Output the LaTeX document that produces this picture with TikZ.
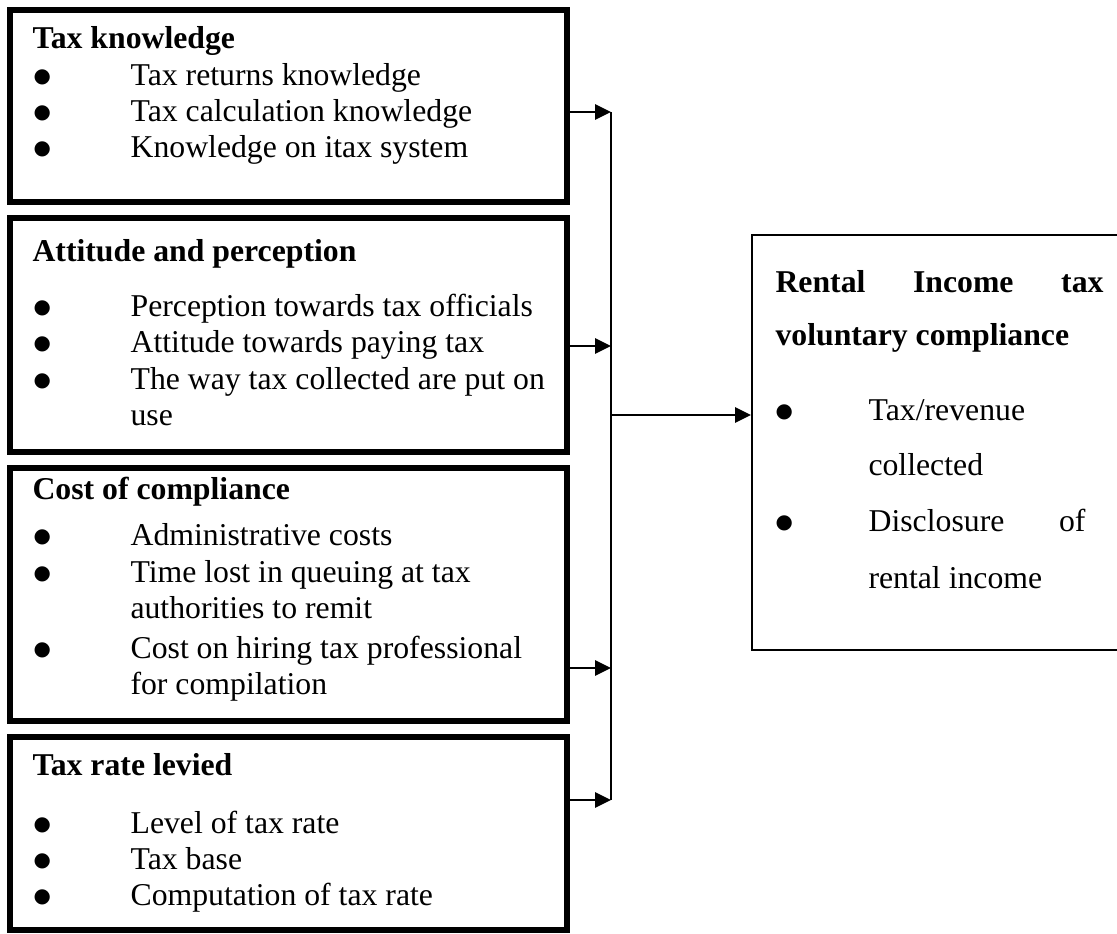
\documentclass[tikz,border=0pt]{standalone}
\usepackage{fontspec}
\setmainfont{Liberation Serif}
\newfontfamily\symfont{DejaVu Sans}
\usetikzlibrary{arrows.meta}

\newcommand{\dotmark}{\raisebox{1.1pt}{\symfont\fontsize{7.5}{7.5}\selectfont ●}}
\newcommand{\bul}{\makebox[36.7pt][l]{\dotmark}}
\newcommand{\rbul}{\makebox[35.2pt][l]{\dotmark}}

\begin{document}
\begin{tikzpicture}[x=0.378pt,y=-0.378pt,
  factor/.style={draw,line width=2.1pt,minimum width=210.5pt,inner sep=0pt},
  outcome/.style={draw,line width=0.75pt,inner sep=0pt},
  line/.style={inner sep=0pt,anchor=base west,font=\fontsize{12}{14}\selectfont},
  head/.style={line,font=\fontsize{12}{14}\selectfont\bfseries},
  link/.style={line width=1pt,-{Triangle[length=6pt,width=5.7pt]}},
  bus/.style={line width=0.75pt}]
  \useasboundingbox (0,0) rectangle (1117,934);

  % factor boxes
  \node[factor,minimum height=72.6pt] (know) at (288.5,106) {};
  \node[factor,minimum height=88.5pt] (att) at (288.5,335) {};
  \node[factor,minimum height=95.6pt] (cost) at (288.5,594.5) {};
  \node[factor,minimum height=73pt] (rate) at (288.5,833.5) {};
  \node[outcome,minimum width=141pt,minimum height=156.9pt] (comp) at (938.5,442.5) {};

  % tax knowledge
  \node[head] (know-t) at (32,48) {Tax knowledge};
  \node[line] (know-1) at (33,85) {\bul Tax returns knowledge};
  \node[line] (know-2) at (33,121) {\bul Tax calculation knowledge};
  \node[line] (know-3) at (33,157) {\bul Knowledge on itax system};

  % attitude
  \node[head] (att-t) at (32,261) {Attitude and perception};
  \node[line] (att-1) at (33,316) {\bul Perception towards tax officials};
  \node[line] (att-2) at (33,352) {\bul Attitude towards paying tax};
  \node[line] (att-3) at (33,389) {\bul The way tax collected are put on};
  \node[line] (att-4) at (130,425) {use};

  % cost of compliance
  \node[head] (cost-t) at (32,499) {Cost of compliance};
  \node[line] (cost-1) at (33,545) {\bul Administrative costs};
  \node[line] (cost-2) at (33,582) {\bul Time lost in queuing at tax};
  \node[line] (cost-3) at (130,618) {authorities to remit};
  \node[line] (cost-4) at (33,658) {\bul Cost on hiring tax professional};
  \node[line] (cost-5) at (130,694) {for compilation};

  % tax rate
  \node[head] (rate-t) at (32,775) {Tax rate levied};
  \node[line] (rate-1) at (33,833) {\bul Level of tax rate};
  \node[line] (rate-2) at (33,869) {\bul Tax base};
  \node[line] (rate-3) at (33,905) {\bul Computation of tax rate};

  % outcome
  \node[head] (comp-t) at (775,292) {\makebox[124pt][s]{Rental Income tax}};
  \node[head] (comp-u) at (775,345) {voluntary compliance};
  \node[line] (comp-1) at (775,420) {\rbul Tax/revenue};
  \node[line] (comp-2) at (868,475) {collected};
  \node[line] (comp-3) at (775,531) {\rbul\makebox[82pt][s]{Disclosure of}};
  \node[line] (comp-4) at (868,588) {rental income};

  % connectors
  \coordinate (b1) at (611,112);
  \coordinate (b2) at (611,346);
  \coordinate (b3) at (611,668);
  \coordinate (b4) at (611,800);
  \coordinate (bm) at (611,415);
  \draw[bus] (b1) -- (b4);
  \draw[link] (know.east |- b1) -- (b1);
  \draw[link] (att.east |- b2) -- (b2);
  \draw[link] (cost.east |- b3) -- (b3);
  \draw[link] (rate.east |- b4) -- (b4);
  \draw[link] (bm) -- (comp.west |- bm);
\end{tikzpicture}
\end{document}
